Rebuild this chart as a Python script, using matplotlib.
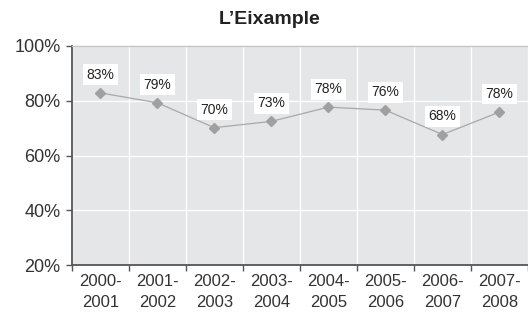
import matplotlib
matplotlib.use("Agg")
import matplotlib.pyplot as plt
import numpy as np

title = "L\u2019Eixample"
categories = ["2000-\n2001", "2001-\n2002", "2002-\n2003", "2003-\n2004",
              "2004-\n2005", "2005-\n2006", "2006-\n2007", "2007-\n2008"]
values = [82.9, 79.3, 70.2, 72.5, 77.7, 76.6, 67.7, 75.9]
labels = ["83%", "79%", "70%", "73%", "78%", "76%", "68%", "78%"]
yticks = [20, 40, 60, 80, 100]
ytick_labels = ["20%", "40%", "60%", "80%", "100%"]

plt.rcParams['font.family'] = ['Liberation Sans', 'DejaVu Sans']

fig = plt.figure(figsize=(5.28, 3.16), dpi=100)
ax = fig.add_axes([71.7/528, (316-265.3)/316, 1 - 71.7/528, (265.3-46)/316])
ax.set_facecolor('#e5e6e8')

n = len(categories)
x = np.arange(n) + 0.5
ax.set_xlim(0, n)
ax.set_ylim(20, 100)

# vertical grid at category boundaries
ax.set_xticks(np.arange(0, n + 1))
ax.set_xticklabels([])
ax.set_xticks(x, minor=True)
ax.set_xticklabels(categories, minor=True, fontsize=12, color='#333333', linespacing=1.5)
ax.tick_params(axis='x', which='major', direction='out', length=4, width=1, color='#555555')
ax.tick_params(axis='x', which='minor', length=0, pad=6)
ax.set_yticks(yticks)
ax.set_yticklabels(ytick_labels, fontsize=13, color='#333333')
ax.tick_params(axis='y', direction='out', length=4, width=1, color='#555555', pad=4)

ax.grid(True, which='major', color='white', linewidth=1.0)
ax.set_axisbelow(True)

ax.spines['right'].set_visible(False)
ax.spines['top'].set_color('#c4c4c4')
ax.spines['top'].set_linewidth(1.0)
ax.spines['left'].set_color('#555555')
ax.spines['left'].set_linewidth(1.3)
ax.spines['bottom'].set_color('#555555')
ax.spines['bottom'].set_linewidth(1.3)

ax.plot(x, values, color='#a8a8a8', linewidth=0.9, marker='D', markersize=5.5,
        markerfacecolor='#a0a0a0', markeredgecolor='#a0a0a0', zorder=3, clip_on=False)

for xi, v, lab in zip(x, values, labels):
    ax.annotate(lab, (xi, v), xytext=(0, 13), textcoords='offset points',
                ha='center', va='center', fontsize=10, color='#222222',
                bbox=dict(boxstyle='square,pad=0.25', facecolor='white', edgecolor='none'),
                zorder=4)

fig.text(270/528, 1 - 20/316, title, ha='center', va='center', fontsize=14,
         fontweight='bold', color='#222222')

fig.savefig('out.png', dpi=100)
